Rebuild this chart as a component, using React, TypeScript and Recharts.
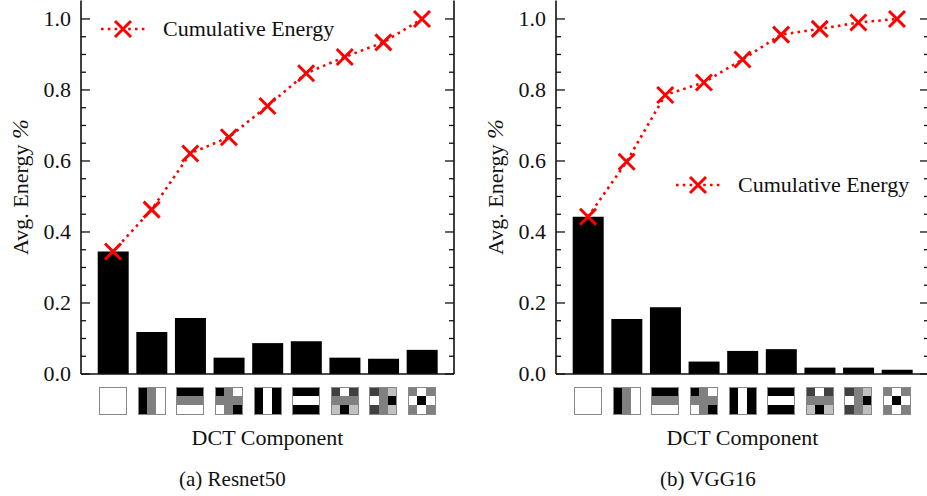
import React from 'react';
import {
  ComposedChart,
  Bar,
  Line,
  XAxis,
  YAxis,
  Legend,
  Label,
} from 'recharts';

const components = ['C0', 'C1', 'C2', 'C3', 'C4', 'C5', 'C6', 'C7', 'C8'];

const resnetEnergy = [0.345, 0.118, 0.158, 0.046, 0.087, 0.092, 0.046, 0.043, 0.068];
const resnetCumulative = [0.345, 0.463, 0.621, 0.667, 0.755, 0.847, 0.893, 0.934, 1.0];

const vggEnergy = [0.443, 0.155, 0.188, 0.035, 0.065, 0.07, 0.018, 0.018, 0.012];
const vggCumulative = [0.443, 0.598, 0.786, 0.821, 0.886, 0.956, 0.972, 0.99, 1.0];

const yTicks = [0, 0.05, 0.1, 0.15, 0.2, 0.25, 0.3, 0.35, 0.4, 0.45, 0.5, 0.55, 0.6, 0.65, 0.7, 0.75, 0.8, 0.85, 0.9, 0.95, 1.0];

// grey levels of the 3x3 DCT basis shown under each bar
const W = '#ffffff';
const K = '#000000';
const G = '#808080';
const D = '#404040';
const L = '#c0c0c0';
const patterns = [
  [W, W, W, W, W, W, W, W, W],
  [K, G, W, K, G, W, K, G, W],
  [K, K, K, G, G, G, W, W, W],
  [K, G, W, G, G, G, W, G, K],
  [K, W, K, K, W, K, K, W, K],
  [K, K, K, W, W, W, K, K, K],
  [D, W, D, G, G, G, L, K, L],
  [D, G, L, W, G, K, D, G, L],
  [G, W, G, W, K, W, G, W, G],
];

const FONT = '"Liberation Serif", serif';
const INK = '#111111';

const isMajor = (v: number) => Math.abs(v * 5 - Math.round(v * 5)) < 1e-6;

const LeftTick = ({ x, y, payload }: any) => {
  const major = isMajor(payload.value);
  return (
    <g>
      <line x1={x} x2={x + (major ? 9 : 5)} y1={y} y2={y} stroke={INK} strokeWidth={1.3} />
      {major && (
        <text x={x - 10} y={y + 7} textAnchor="end" fontSize={22} fontFamily={FONT} fill={INK}>
          {payload.value.toFixed(1)}
        </text>
      )}
    </g>
  );
};

const RightTick = ({ x, y, payload }: any) => {
  const major = isMajor(payload.value);
  return <line x1={x} x2={x - (major ? 9 : 5)} y1={y} y2={y} stroke={INK} strokeWidth={1.3} />;
};

const PatternTick = ({ x, y, payload }: any) => {
  const cell = 9;
  const left = x - 13.5;
  const top = y + 13;
  const cells = patterns[payload.index];
  return (
    <g shapeRendering="crispEdges">
      {cells.map((c, i) => (
        <rect key={i} x={left + (i % 3) * cell} y={top + Math.floor(i / 3) * cell} width={cell} height={cell} fill={c} />
      ))}
      <rect x={left} y={top} width={cell * 3} height={cell * 3} fill="none" stroke="#888888" strokeWidth={1} />
    </g>
  );
};

const CrossDot = ({ cx, cy }: any) => (
  <path
    d={`M${cx - 8} ${cy - 8}L${cx + 8} ${cy + 8}M${cx + 8} ${cy - 8}L${cx - 8} ${cy + 8}`}
    stroke="#ff0000"
    strokeWidth={3}
    fill="none"
  />
);

const LegendBox = ({ payload }: any) => {
  const item = payload.find((p: any) => p.dataKey === 'cumulative');
  return (
    <div style={{ display: 'flex', alignItems: 'center', fontFamily: FONT, fontSize: 22, color: INK, whiteSpace: 'nowrap' }}>
      <svg width={46} height={24} style={{ display: 'block' }}>
        <line x1={0} x2={46} y1={12} y2={12} stroke="#ff0000" strokeWidth={2.6} strokeDasharray="2.6 4.2" />
        <CrossDot cx={22} cy={12} />
      </svg>
      <span style={{ marginLeft: 16 }}>{item ? item.value : ''}</span>
    </div>
  );
};

const EnergyLabel = () => (
  <text
    transform="rotate(-90 28 187)"
    x={28}
    y={187}
    textAnchor="middle"
    fontSize={22}
    fontFamily={FONT}
    fill={INK}
  >
    Avg. Energy <tspan fontStyle="italic" fontSize={24}>%</tspan>
  </text>
);

interface PanelProps {
  left: number;
  energy: number[];
  cumulative: number[];
  legendLeft: number;
  legendTop: number;
}

const Panel: React.FC<PanelProps> = ({ left, energy, cumulative, legendLeft, legendTop }) => {
  const data = components.map((component, i) => ({
    component,
    energy: energy[i],
    cumulative: cumulative[i],
    frame: cumulative[i],
  }));
  const axisLine = { stroke: INK, strokeWidth: 1.6 };

  return (
    <div style={{ position: 'absolute', left, top: 0 }}>
      <ComposedChart width={470} height={460} data={data} margin={{ top: 0.5, right: 0, bottom: 0, left: 0 }}>
        <XAxis
          dataKey="component"
          height={86}
          interval={0}
          tick={<PatternTick />}
          tickLine={false}
          tickSize={0}
          tickMargin={0}
          axisLine={axisLine}
          padding={{ left: 12.7, right: 12.7 }}
        >
          <Label value="DCT Component" position="insideBottom" offset={15} fontSize={22} fontFamily={FONT} fill={INK} />
        </XAxis>
        <XAxis
          xAxisId="top"
          orientation="top"
          dataKey="component"
          height={0}
          tick={false}
          tickLine={false}
          axisLine={axisLine}
          padding={{ left: 12.7, right: 12.7 }}
        />
        <YAxis
          yAxisId="left"
          width={81}
          domain={[0, 1.052]}
          ticks={yTicks}
          interval={0}
          tick={<LeftTick />}
          tickLine={false}
          tickSize={0}
          tickMargin={0}
          axisLine={axisLine}
          allowDataOverflow
        >
          <Label content={<EnergyLabel />} />
        </YAxis>
        <YAxis
          yAxisId="right"
          orientation="right"
          width={16}
          domain={[0, 1.052]}
          ticks={yTicks}
          interval={0}
          tick={<RightTick />}
          tickLine={false}
          tickSize={0}
          tickMargin={0}
          axisLine={axisLine}
          allowDataOverflow
        />
        <Legend
          layout="horizontal"
          align="center"
          verticalAlign="middle"
          content={<LegendBox />}
          wrapperStyle={{ left: legendLeft, top: legendTop, width: 300 }}
        />
        <Bar yAxisId="left" dataKey="energy" fill="#000000" barSize={31} legendType="none" isAnimationActive={false} />
        <Line
          yAxisId="left"
          dataKey="cumulative"
          name="Cumulative Energy"
          stroke="#ff0000"
          strokeWidth={2.6}
          strokeDasharray="2.6 4.2"
          dot={<CrossDot />}
          activeDot={false}
          isAnimationActive={false}
        />
        {/* keeps the right-hand frame axis and the top edge bound to a series */}
        <Line
          yAxisId="right"
          xAxisId="top"
          dataKey="frame"
          stroke="none"
          dot={false}
          activeDot={false}
          legendType="none"
          isAnimationActive={false}
        />
      </ComposedChart>
    </div>
  );
};

const Caption = ({ left, children }: { left: number; children: React.ReactNode }) => (
  <div style={{ position: 'absolute', left, top: 467, fontFamily: FONT, fontSize: 21, color: INK, whiteSpace: 'nowrap' }}>
    {children}
  </div>
);

export default function App() {
  return (
    <div style={{ position: 'fixed', left: 0, top: 0, width: 927, height: 496, overflow: 'hidden', background: '#fff' }}>
      <Panel left={0} energy={resnetEnergy} cumulative={resnetCumulative} legendLeft={101} legendTop={16} />
      <Panel left={475} energy={vggEnergy} cumulative={vggCumulative} legendLeft={201} legendTop={172} />
      <Caption left={179}>(a) Resnet50</Caption>
      <Caption left={660}>(b) VGG16</Caption>
    </div>
  );
}
